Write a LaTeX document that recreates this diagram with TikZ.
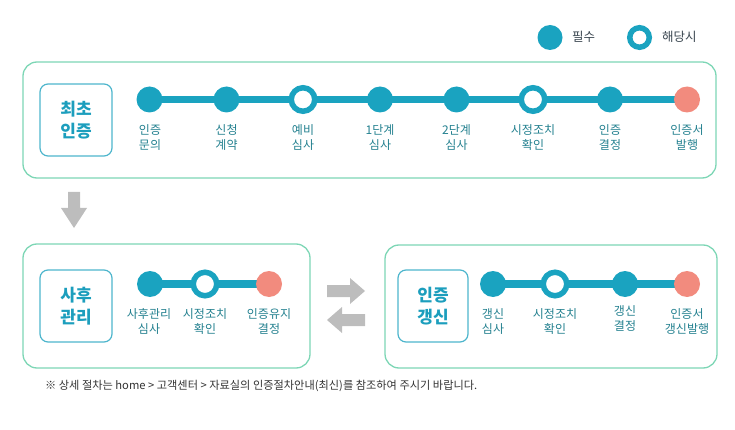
\documentclass[tikz,border=0pt]{standalone}
\usepackage{fontspec}
\setmainfont{Noto Sans CJK KR}
\usetikzlibrary{backgrounds}
\definecolor{teal}{HTML}{1AA3C0}
\definecolor{coral}{HTML}{F28B7E}
\definecolor{boxgreen}{HTML}{7DD6B5}
\definecolor{innerteal}{HTML}{4DB5CC}
\definecolor{titleteal}{HTML}{1C9EBD}
\definecolor{labeltext}{HTML}{23808F}
\definecolor{legendtext}{HTML}{3A4650}
\definecolor{arrowgray}{HTML}{BDBDBD}
\definecolor{notetext}{HTML}{333333}
\tikzset{
  outerbox/.style={draw=boxgreen, line width=1.3pt, rounded corners=14pt, inner sep=0pt},
  innerbox/.style={draw=innerteal, line width=1.2pt, rounded corners=8pt, inner sep=0pt,
    font=\fontsize{17}{22}\selectfont\bfseries, text=titleteal, align=center},
  dotfull/.style={circle, fill=teal, minimum size=26pt, inner sep=0pt},
  dotring/.style={circle, draw=teal, line width=5.5pt, fill=white, minimum size=23.5pt, inner sep=0pt},
  dotend/.style={circle, fill=coral, minimum size=26pt, inner sep=0pt},
  track/.style={draw=teal, line width=7.5pt},
  steplabel/.style={align=center, text=labeltext, font=\fontsize{12}{15}\selectfont, anchor=north, inner sep=0pt},
  legendlabel/.style={text=legendtext, font=\fontsize{12.5}{15}\selectfont, anchor=west, inner sep=0pt},
  blockarrow/.style={fill=arrowgray},
}
\begin{document}
\begin{tikzpicture}[x=1pt,y=-1pt]
\useasboundingbox (0,0) rectangle (735,430);
% legend
\node[dotfull, minimum size=25pt] (lg1) at (550,37.5) {};
\node[legendlabel] (lg1t) at (572,37) {필수};
\node[dotring, minimum size=19.5pt, line width=5.5pt] (lg2) at (639.5,37.5) {};
\node[legendlabel] (lg2t) at (662,37) {해당시};

% top box
\node[outerbox, minimum width=693pt, minimum height=116pt] (topbox) at (369.5,120) {};
\node[innerbox, minimum width=72pt, minimum height=72pt] (toptitle) at (76,120) {최초\\인증};
\node[dotfull] (a1) at (149.5,99.5) {};
\node[dotfull] (a2) at (226.5,99.5) {};
\node[dotring] (a3) at (303,99.5) {};
\node[dotfull] (a4) at (380,99.5) {};
\node[dotfull] (a5) at (456.5,99.5) {};
\node[dotring] (a6) at (533,99.5) {};
\node[dotfull] (a7) at (610,99.5) {};
\node[dotend] (a8) at (687,99.5) {};
\begin{pgfonlayer}{background}
\draw[track] (a1.center) -- (a8.center);
\end{pgfonlayer}
\node[steplabel] (a1t) at (150,124) {인증\\문의};
\node[steplabel] (a2t) at (226.5,124) {신청\\계약};
\node[steplabel] (a3t) at (303,124) {예비\\심사};
\node[steplabel] (a4t) at (380,124) {1단계\\심사};
\node[steplabel] (a5t) at (456.5,124) {2단계\\심사};
\node[steplabel] (a6t) at (533,124) {시정조치\\확인};
\node[steplabel] (a7t) at (610,124) {인증\\결정};
\node[steplabel] (a8t) at (687,124) {인증서\\발행};

% down arrow
\fill[blockarrow] (68,192) -- (80,192) -- (80,208) -- (87,208) -- (74,228) -- (61,208) -- (68,208) -- cycle;

% bottom-left box
\node[outerbox, minimum width=287pt, minimum height=124pt] (blbox) at (166.5,306) {};
\node[innerbox, minimum width=72pt, minimum height=72pt] (bltitle) at (76,306) {사후\\관리};
\node[dotfull] (b1) at (150,284) {};
\node[dotring] (b2) at (205,284) {};
\node[dotend] (b3) at (269,284) {};
\begin{pgfonlayer}{background}
\draw[track] (b1.center) -- (b3.center);
\end{pgfonlayer}
\node[steplabel] (b1t) at (149,308) {사후관리\\심사};
\node[steplabel] (b2t) at (205,308) {시정조치\\확인};
\node[steplabel] (b3t) at (269,308) {인증유지\\결정};

% side arrows
\fill[blockarrow] (327,285) -- (350,285) -- (350,278) -- (365,291) -- (350,304) -- (350,297) -- (327,297) -- cycle;
\fill[blockarrow] (365,314) -- (342,314) -- (342,307) -- (327,320) -- (342,333) -- (342,326) -- (365,326) -- cycle;

% bottom-right box
\node[outerbox, minimum width=332pt, minimum height=123pt] (brbox) at (551,306.5) {};
\node[innerbox, minimum width=70pt, minimum height=72pt] (brtitle) at (433,306) {인증\\갱신};
\node[dotfull] (c1) at (493,284) {};
\node[dotring] (c2) at (555,284) {};
\node[dotfull] (c3) at (625,284) {};
\node[dotend] (c4) at (687,284) {};
\begin{pgfonlayer}{background}
\draw[track] (c1.center) -- (c4.center);
\end{pgfonlayer}
\node[steplabel] (c1t) at (493,308) {갱신\\심사};
\node[steplabel] (c2t) at (555,308) {시정조치\\확인};
\node[steplabel] (c3t) at (625,305) {갱신\\결정};
\node[steplabel] (c4t) at (687,308) {인증서\\갱신발행};

% footnote
\node[anchor=west, inner sep=0pt, text=notetext, font=\fontsize{11.2}{13}\selectfont] (note) at (45,386) {※ 상세 절차는 home > 고객센터 > 자료실의 인증절차안내(최신)를 참조하여 주시기 바랍니다.};
\end{tikzpicture}
\end{document}
